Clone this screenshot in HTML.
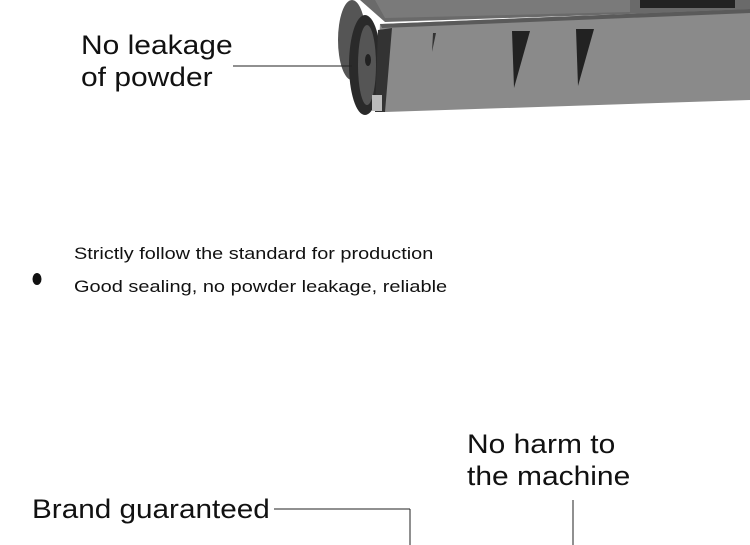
<!DOCTYPE html>
<html><head><style>
body{margin:0;width:750px;height:545px;background:#fff;position:relative;overflow:hidden;font-family:"Liberation Sans",sans-serif;color:#111}
.t{position:absolute;white-space:nowrap;transform-origin:0 0}
</style></head><body>
<svg width="750" height="545" style="position:absolute;left:0;top:0">
  <polygon points="360,0 750,0 750,10 385,22" fill="#6a6a6a"/>
  <polygon points="640,0 735,0 735,8 640,8" fill="#222"/>
  <polygon points="375,0 630,0 630,12 385,18" fill="#7a7a7a"/>
  <polygon points="380,24 750,9 750,100 385,112 378,60" fill="#8a8a8a"/>
  <polygon points="380,24 750,9 750,13 382,28" fill="#5a5a5a"/>
  <polygon points="512,31 530,31 514,88" fill="#222"/>
  <polygon points="576,29 594,29 578,86" fill="#222"/>
  <polygon points="433,33 436,33 432,52" fill="#333"/>
  <ellipse cx="352" cy="40" rx="14" ry="40" fill="#555"/>
  <ellipse cx="365" cy="65" rx="16" ry="50" fill="#2a2a2a"/>
  <ellipse cx="367" cy="65" rx="9" ry="40" fill="#555"/>
  <ellipse cx="368" cy="60" rx="3" ry="6" fill="#222"/>
  <polygon points="378,30 392,28 385,112 375,112" fill="#333"/>
  <rect x="372" y="95" width="10" height="16" fill="#bbb"/>
  <line x1="233" y1="66" x2="352" y2="66" stroke="#222" stroke-width="1"/>
  <line x1="274" y1="509" x2="410" y2="509" stroke="#222" stroke-width="1"/>
  <line x1="410" y1="509" x2="410" y2="545" stroke="#222" stroke-width="1"/>
  <line x1="573" y1="500" x2="573" y2="545" stroke="#222" stroke-width="1"/>
  <ellipse cx="37" cy="279" rx="4.5" ry="6" fill="#111"/>
</svg>
<div class="t" style="left:81px;top:29px;font-size:27px;line-height:32px;transform:scaleX(1.11)">No leakage<br>of powder</div>
<div class="t" style="left:74px;top:244px;font-size:17px;transform:scaleX(1.17)">Strictly follow the standard for production</div>
<div class="t" style="left:74px;top:277px;font-size:17px;transform:scaleX(1.175)">Good sealing, no powder leakage, reliable</div>
<div class="t" style="left:467px;top:428px;font-size:27px;line-height:32px;transform:scaleX(1.11)">No harm to<br>the machine</div>
<div class="t" style="left:32px;top:494px;font-size:27px;transform:scaleX(1.10)">Brand guaranteed</div>
</body></html>
